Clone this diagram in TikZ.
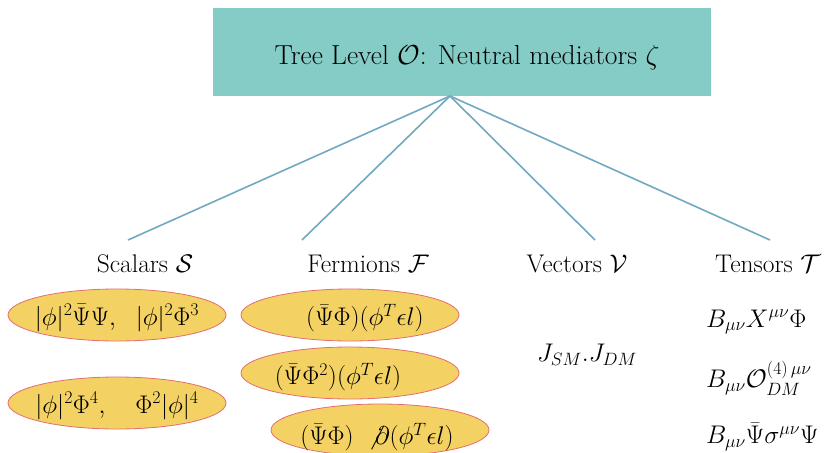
\RequirePackage{fix-cm}
\documentclass[tikz,border=0pt]{standalone}
\usepackage{amsmath}
\usetikzlibrary{shapes.geometric}
\definecolor{boxteal}{HTML}{86CCC6}
\definecolor{linkblue}{HTML}{6FA9C2}
\definecolor{ovalfill}{HTML}{F3D162}
\definecolor{ovaledge}{HTML}{E46E72}
\tikzset{
  big/.style={font=\fontsize{25.5}{30}\selectfont, inner sep=0pt},
  huge/.style={font=\fontsize{27.5}{32}\selectfont, inner sep=0pt},
  oval/.style={ellipse, fill=ovalfill, draw=ovaledge, line width=0.8pt, minimum width=218pt, minimum height=52pt, inner sep=0pt},
  link/.style={draw=linkblue, line width=1.6pt},
}
\begin{document}
\begin{tikzpicture}[x=1pt,y=-1pt]
\useasboundingbox (0,0) rectangle (831,453);
\node[fill=boxteal, minimum width=498pt, minimum height=88pt, inner sep=0pt] (top) at (462,52) {};
\node[huge] (title) at (467,58) {Tree Level $\mathcal{O}$: Neutral mediators $\zeta$};
\coordinate (apex) at (450,96);
\coordinate (es) at (128,240);
\coordinate (ef) at (302,240);
\coordinate (ev) at (595,240);
\coordinate (et) at (770,240);
\draw[link] (apex) -- (es);
\draw[link] (apex) -- (ef);
\draw[link] (apex) -- (ev);
\draw[link] (apex) -- (et);
\node[big] (ls) at (145,264) {Scalars $\mathcal{S}$};
\node[big] (lf) at (368,264) {Fermions $\mathcal{F}$};
\node[big] (lv) at (577,264) {Vectors $\mathcal{V}$};
\node[big] (lt) at (768,264) {Tensors $\mathcal{T}$};
\node[oval] (s1) at (117,315) {};
\node[oval] (s2) at (117,403) {};
\node[oval] (f1) at (350,315) {};
\node[oval] (f2) at (350,373) {};
\node[oval] (f3) at (380,430) {};
\node[big] (ts1) at (117,318) {$|\phi|^2\bar\Psi\Psi,\ \ |\phi|^2\Phi^3$};
\node[big] (ts2) at (117,406) {$|\phi|^2\Phi^4,\quad \Phi^2|\phi|^4$};
\node[big] (tf1) at (365,318) {$(\bar\Psi\Phi)(\phi^T\epsilon l)$};
\node[big] (tf2) at (338,377) {$(\bar\Psi\Phi^2)(\phi^T\epsilon l)$};
\node[big] (tf3) at (377,437) {$(\bar\Psi\Phi)\;\not\partial(\phi^T\epsilon l)$};
\node[big] (v1) at (587,355) {$J_{SM}.J_{DM}$};
\node[big, anchor=west] (t1) at (706,322) {$B_{\mu\nu}X^{\mu\nu}\Phi$};
\node[big, anchor=west] (t2) at (706,378) {$B_{\mu\nu}\mathcal{O}^{(4)\,\mu\nu}_{DM}$};
\node[big, anchor=west] (t3) at (706,437) {$B_{\mu\nu}\bar\Psi\sigma^{\mu\nu}\Psi$};
\end{tikzpicture}
\end{document}
